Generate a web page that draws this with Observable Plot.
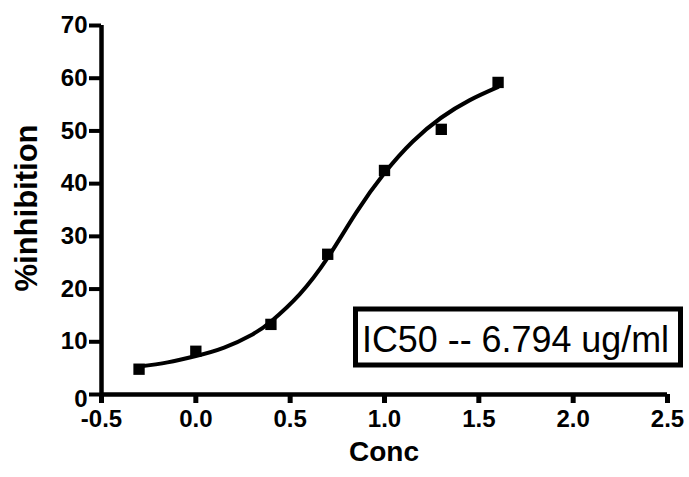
<!DOCTYPE html>
<html><head><meta charset="utf-8">
<script src="https://cdn.jsdelivr.net/npm/d3@7"></script>
<script src="https://cdn.jsdelivr.net/npm/@observablehq/plot@0.6"></script>
<style>
body{margin:0;background:#fff;}
</style></head>
<body><div id="chart"></div>
<script>
const concPoints = [-0.301, 0.0, 0.398, 0.699, 1.0, 1.301, 1.602];
const inhibitionPoints = [4.8, 8.2, 13.3, 26.6, 42.5, 50.3, 59.2];
const curveConc = [-0.3, -0.15, 0.0, 0.15, 0.3, 0.4, 0.55, 0.7, 0.85, 1.0, 1.15, 1.3, 1.45, 1.6];
const curveInhibition = [5.3, 6.1, 7.3, 8.9, 11.4, 13.9, 19.0, 26.0, 34.5, 42.0, 48.0, 52.5, 55.8, 58.3];
const xTicks = [-0.5, 0.0, 0.5, 1.0, 1.5, 2.0, 2.5];
const yTicks = [0, 10, 20, 30, 40, 50, 60, 70];
const annotation = "IC50 -- 6.794 ug/ml";

const pts = concPoints.map((c,i)=>({x:c,y:inhibitionPoints[i]}));
const curve = curveConc.map((c,i)=>({x:c,y:curveInhibition[i]}));
const FONT = '"Liberation Sans", Arial, Helvetica, sans-serif';

const plot = Plot.plot({
  width: 689, height: 477,
  marginLeft: 101, marginRight: 22, marginTop: 25, marginBottom: 83,
  style: {fontFamily: FONT, background: "#fff", color: "#000"},
  x: {domain: [-0.5, 2.5]},
  y: {domain: [0, 70]},
  marks: [
    Plot.axisX({ticks: xTicks, tickFormat: d => d.toFixed(1), tickSize: 9, tickPadding: 6, label: null}),
    Plot.axisY({ticks: yTicks, tickSize: 12, tickPadding: 2, label: null}),
    Plot.ruleY([0], {x1: -0.5, x2: 2.5, strokeWidth: 4.5}),
    Plot.ruleX([-0.5], {y1: 0, y2: 70, strokeWidth: 4.5}),
    Plot.line(curve, {x: "x", y: "y", curve: "natural", strokeWidth: 4, stroke: "#000"}),
    Plot.dot(pts, {x: "x", y: "y", symbol: "square", r: 6.4, fill: "#000", stroke: "none"})
  ]
});
document.getElementById("chart").appendChild(plot);
const svg = d3.select(plot);

svg.selectAll('g[aria-label="x-axis tick label"] text, g[aria-label="y-axis tick label"] text')
  .style("font-size", "24px").style("font-weight", "bold").style("font-family", FONT).style("fill", "#000");
svg.selectAll('g[aria-label="y-axis tick label"] text')
  .filter(function() { return this.textContent.trim() === "0"; })
  .attr("dy", "0.18em");
svg.selectAll('g[aria-label="x-axis tick"] path').style("stroke-width", "5px").style("stroke", "#000");
svg.selectAll('g[aria-label="y-axis tick"] path').style("stroke-width", "4px").style("stroke", "#000");

svg.append("text").attr("x", 384).attr("y", 461).attr("text-anchor", "middle")
  .style("font-family", FONT).style("font-size", "28px").style("font-weight", "bold").style("fill", "#000").text("Conc");
svg.append("text").attr("transform", "translate(37,208) rotate(-90)").attr("text-anchor", "middle")
  .style("font-family", FONT).style("font-size", "31px").style("font-weight", "bold").style("fill", "#000").text("%inhibition");
svg.append("rect").attr("x", 355.5).attr("y", 309).attr("width", 325).attr("height", 56)
  .attr("fill", "#fff").attr("stroke", "#000").attr("stroke-width", 5);
svg.append("text").attr("x", 362).attr("y", 352).attr("text-anchor", "start")
  .attr("textLength", 307).attr("lengthAdjust", "spacingAndGlyphs")
  .style("font-family", FONT).style("font-size", "37px").style("fill", "#000").text(annotation);
</script></body></html>
